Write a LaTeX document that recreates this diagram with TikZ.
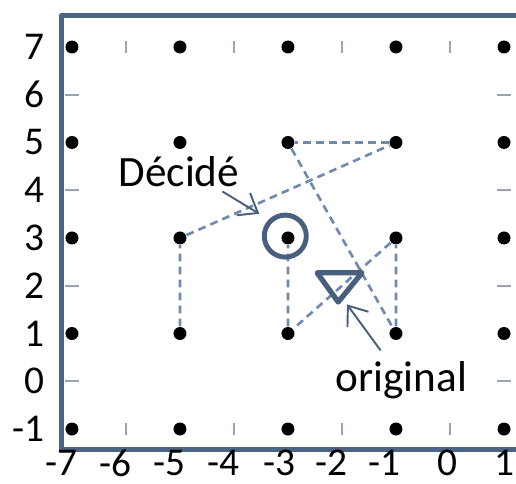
\documentclass[tikz,border=0pt]{standalone}
\usepackage{fontspec}
\setmainfont{Carlito}
\usetikzlibrary{calc,arrows.meta,positioning}

\definecolor{framecol}{HTML}{4D6584}
\definecolor{dashcol}{HTML}{7089AE}
\definecolor{markcol}{HTML}{485F7E}
\definecolor{tickcol}{HTML}{9AA4B2}

\tikzset{
  dot/.style={circle, fill=black, inner sep=0pt, minimum size=0.13cm},
  tickmark/.style={tickcol, line width=0.5pt},
  axislabel/.style={inner sep=0pt, font=\fontsize{11.2}{13}\selectfont},
  note/.style={inner sep=1pt, font=\fontsize{12.3}{14}\selectfont},
  path/.style={dashcol, line width=0.75pt, dash pattern=on 2.2pt off 1.5pt},
  pointer/.style={-{Straight Barb[length=1.7mm,width=2.6mm]}, markcol, line width=0.55pt}
}

\begin{document}
\begin{tikzpicture}[x=0.54cm, y=0.4775cm, line join=round]
\useasboundingbox (-8.333,-2.131) rectangle (1.222,7.984);
% frame
\draw[framecol, line width=1.4pt] (1.222,7.65) -- (-7.2,7.65) -- (-7.2,-1.42) -- (1.222,-1.42);
% axis labels
\foreach \y in {-1,...,7}
  \node[axislabel, anchor=east] (ylab\y) at (-7.5,\y) {\y};
\foreach \x/\p in {-7/-7.2,-6/-6.19,-5/-5.19,-4/-4.19,-3/-3.15,-2/-2.2,-1/-1.22,0/-0.04,1/1.0}
  \node[axislabel] (xlab\x) at (\p,-1.71) {\x};
% small tick marks
\foreach \x in {-6,-4,-2,0} {
  \draw[tickmark] (\x,6.88) -- (\x,7.12);
  \draw[tickmark] (\x,-0.88) -- (\x,-1.12);
}
\foreach \y in {6,4,2,0} {
  \draw[tickmark] (-7.13,\y) -- (-6.87,\y);
  \draw[tickmark] (0.87,\y) -- (1.13,\y);
}
% grid of points
\foreach \x/\i in {-7/a,-5/b,-3/c,-1/d,1/e}
  \foreach \y/\j in {7/a,5/b,3/c,1/d,-1/e}
    \node[dot] (p\i\j) at (\x,\y) {};
% dashed route
\draw[path] (pbd) -- (pbc) -- (pdb) -- (pcb) -- (pdd) -- (pdc) -- (pcd) -- (pcc);
% markers
\node[circle, draw=markcol, line width=1.4pt, minimum size=0.42cm, inner sep=0pt] (circ) at (-3.05,3.04) {};
\coordinate (tri) at (-2.07,1.66);
\draw[markcol, line width=1.5pt] (tri) -- ++(-0.39,0.61) -- ++(0.83,0) -- cycle;
% notes
\node[note] (decide) at (-5.02,4.38) {Décidé};
\node[note] (orig) at (-0.9,0.03) {original};
\draw[pointer, shorten >=1.1mm] (decide.-24) -- (circ.135);
\draw[pointer, shorten <=0.8mm, shorten >=0.3mm] (orig.125) -- ([xshift=0.7mm]tri);
\end{tikzpicture}
\end{document}
